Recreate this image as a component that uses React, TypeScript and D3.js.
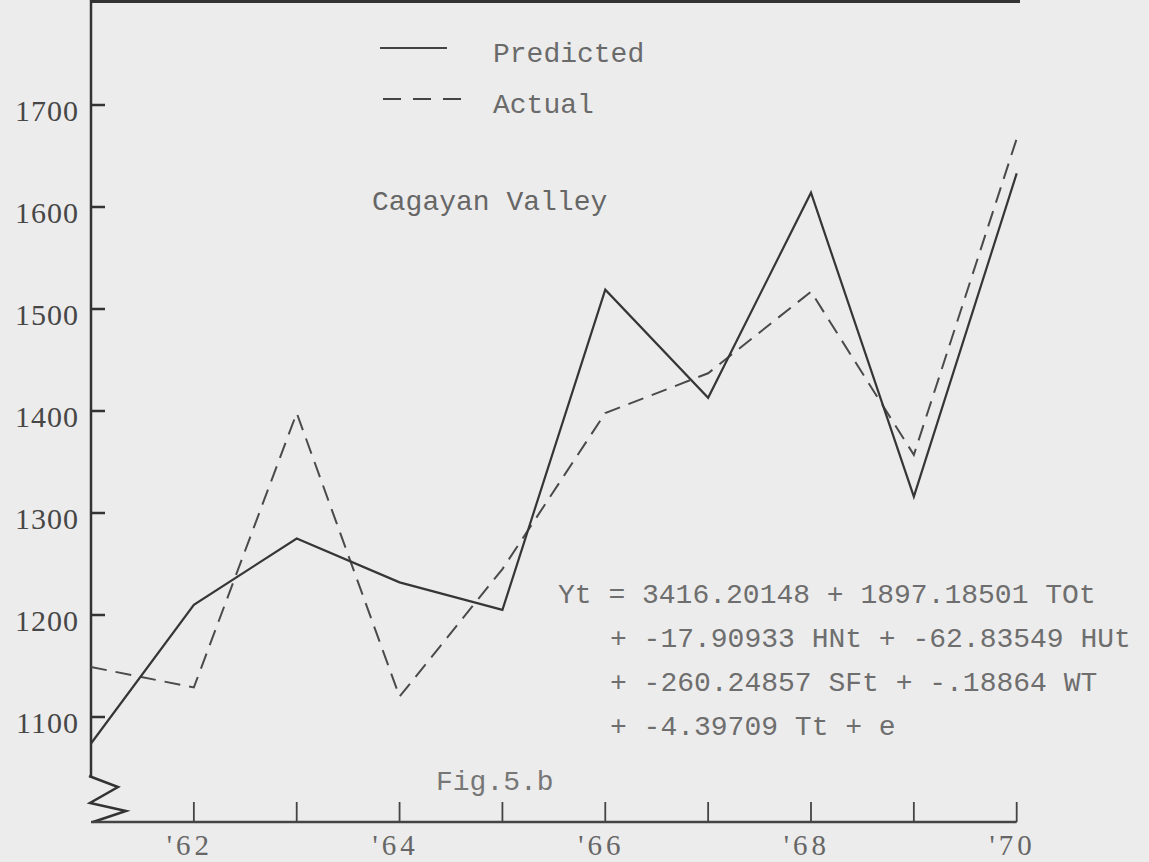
import React from "react";
import * as d3 from "d3";

const years = [1961, 1962, 1963, 1964, 1965, 1966, 1967, 1968, 1969, 1970];
const predicted = [1074, 1210, 1275, 1232, 1205, 1519, 1413, 1614, 1316, 1633];
const actual = [1149, 1129, 1398, 1120, 1245, 1398, 1437, 1517, 1357, 1667];
const yTicks = [1100, 1200, 1300, 1400, 1500, 1600, 1700];
const xTickYears = [1962, 1963, 1964, 1965, 1966, 1967, 1968, 1969, 1970];
const xLabelYears = [1962, 1964, 1966, 1968, 1970];
const legendLabels = ["Predicted", "Actual"];
const regionTitle = "Cagayan Valley";
const equationLines = [
  "Yt = 3416.20148 + 1897.18501 TOt",
  "+ -17.90933 HNt + -62.83549 HUt",
  "+ -260.24857 SFt + -.18864 WT",
  "+ -4.39709 Tt + e",
];
const figLabel = "Fig.5.b";

const W = 1149;
const H = 862;

export default function App() {
  const x = d3.scaleLinear().domain([1961, 1970]).range([91, 1016.7]);
  const y = d3.scaleLinear().domain([1100, 1700]).range([717, 105]);
  const axisY = 822;
  const axisX = 91;

  const line = d3
    .line<number>()
    .x((_, i) => x(years[i]))
    .y((d) => y(d));

  const mono = "'Liberation Mono', 'DejaVu Sans Mono', monospace";
  const serif = "'Liberation Serif', 'DejaVu Serif', serif";

  const zig = d3.line()([
    [axisX - 2, 776],
    [axisX + 27, 787],
    [axisX - 1, 803],
    [axisX + 35, 811],
    [axisX + 2, axisY],
  ]);

  const eqX = [558, 610, 610, 610];
  const eqY = [603, 647, 691, 735];

  return (
    <svg
      width={W}
      height={H}
      style={{ position: "absolute", left: 0, top: 0, display: "block" }}
    >
      <rect x={0} y={0} width={W} height={H} fill="#ececec" />

      {/* top border */}
      <line x1={axisX} x2={1020} y1={1} y2={1} stroke="#333" strokeWidth={4} />
      {/* left axis */}
      <line x1={axisX} x2={axisX} y1={0} y2={776} stroke="#333" strokeWidth={2.5} />
      <path d={zig || ""} fill="none" stroke="#333" strokeWidth={2.5} />
      {/* bottom axis */}
      <line x1={axisX} x2={x(1970)} y1={axisY} y2={axisY} stroke="#444" strokeWidth={2.5} />

      {yTicks.map((t) => (
        <g key={t}>
          <line x1={axisX} x2={axisX + 14} y1={y(t)} y2={y(t)} stroke="#333" strokeWidth={2.5} />
          <text
            x={79}
            y={y(t) + 16}
            textAnchor="end"
            fontFamily={serif}
            fontSize={30}
            letterSpacing={1}
            fill="#474747"
          >
            {t}
          </text>
        </g>
      ))}

      {xTickYears.map((yr) => (
        <line
          key={yr}
          x1={x(yr)}
          x2={x(yr)}
          y1={axisY}
          y2={axisY - 20}
          stroke="#444"
          strokeWidth={1.8}
        />
      ))}
      {xLabelYears.map((yr) => (
        <text
          key={yr}
          x={x(yr) - 4}
          y={855}
          textAnchor="middle"
          fontFamily={serif}
          fontSize={29}
          letterSpacing={4}
          fill="#666"
        >
          {"'" + String(yr).slice(2)}
        </text>
      ))}

      {/* series */}
      <path
        d={line(actual) || ""}
        fill="none"
        stroke="#4a4a4a"
        strokeWidth={2}
        strokeDasharray="16 9"
      />
      <path d={line(predicted) || ""} fill="none" stroke="#363636" strokeWidth={2.2} />

      {/* legend */}
      <line x1={380} x2={447} y1={48} y2={48} stroke="#444" strokeWidth={2.2} />
      <line
        x1={383}
        x2={465}
        y1={99}
        y2={99}
        stroke="#444"
        strokeWidth={2.2}
        strokeDasharray="18 12"
      />
      <text x={493} y={62} fontFamily={mono} fontSize={28} fill="#6a6a6a">
        {legendLabels[0]}
      </text>
      <text x={493} y={113} fontFamily={mono} fontSize={28} fill="#6a6a6a">
        {legendLabels[1]}
      </text>

      <text x={372} y={210} fontFamily={mono} fontSize={28} fill="#666">
        {regionTitle}
      </text>

      {equationLines.map((l, i) => (
        <text
          key={i}
          x={eqX[i]}
          y={eqY[i]}
          fontFamily={mono}
          fontSize={28}
          fill="#6e6e6e"
          style={{ whiteSpace: "pre" }}
        >
          {l}
        </text>
      ))}

      <text x={436} y={790} fontFamily={mono} fontSize={28} fill="#777">
        {figLabel}
      </text>
    </svg>
  );
}
